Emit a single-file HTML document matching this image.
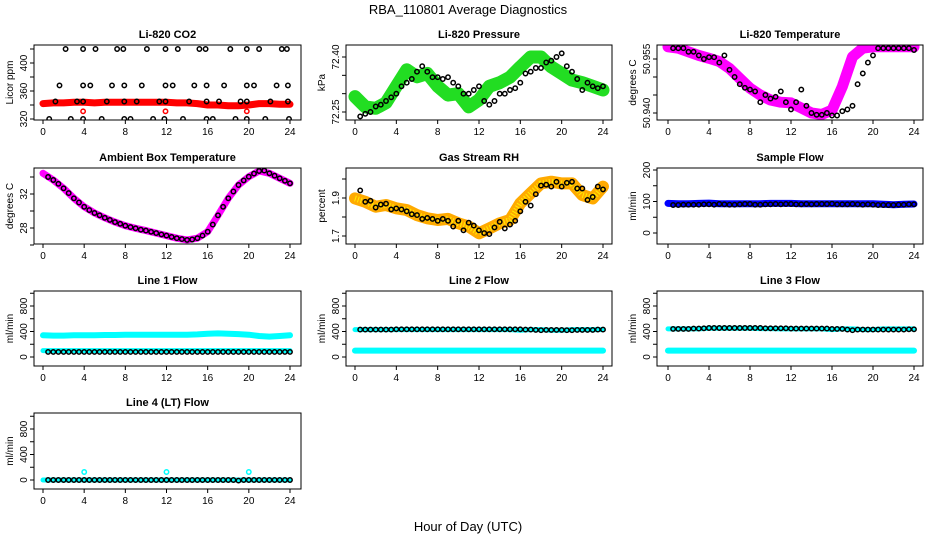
<!DOCTYPE html>
<html><head><meta charset="utf-8"><style>
html,body{margin:0;padding:0;background:#fff;}
svg{display:block;font-family:"Liberation Sans",Arial,sans-serif;}
</style></head><body>
<svg id="chart" width="936" height="540" viewBox="0 0 936 540">
<text x="468" y="14" text-anchor="middle" font-size="13">RBA_110801  Average Diagnostics</text>
<text x="468" y="531" text-anchor="middle" font-size="13">Hour of Day (UTC)</text>
</svg>
<script>
// ---- data ----
const xTicks = [0,4,8,12,16,20,24];
const bandHours = [0,1,2,3,4,5,6,7,8,9,10,11,12,13,14,15,16,17,18,19,20,21,22,23,24];
const halfHours = [0.5,1,1.5,2,2.5,3,3.5,4,4.5,5,5.5,6,6.5,7,7.5,8,8.5,9,9.5,10,10.5,11,11.5,12,12.5,13,13.5,14,14.5,15,15.5,16,16.5,17,17.5,18,18.5,19,19.5,20,20.5,21,21.5,22,22.5,23,23.5,24];

const co2Band = [342,343,343,344,344,343,344,344,344,344,344,344,344,343,343,342,340,340,339,339,340,342,342,341,341];
const co2T = [2.2,3.9,5.1,7.2,7.8,10.1,11.9,13.1,15.2,15.8,18.2,19.8,21.0,23.2,23.7,
 1.6,3.9,4.6,6.7,7.9,9.6,11.9,12.6,14.7,15.9,17.6,19.8,20.5,22.7,23.8,
 1.2,3.3,3.9,6.2,7.9,9.1,11.3,11.9,14.2,15.9,17.1,19.2,19.8,22.1,23.8,
 0.6,2.7,3.9,5.7,7.9,8.5,10.7,11.8,13.6,15.9,16.5,18.7,19.8,21.6,23.9];
const co2V = [420,420,420,420,420,420,420,420,420,420,420,420,420,420,420,
 368,368,368,368,368,368,368,368,368,368,368,368,368,368,368,
 345,345,345,345,345,345,345,345,345,345,345,345,345,345,345,
 320,320,320,320,320,320,320,320,320,320,320,320,320,320,320];
const co2OutT = [3.9,11.9,19.8];
const co2OutV = [331,331,331];

const presBand = [72.292,72.264,72.26,72.275,72.32,72.365,72.346,72.355,72.32,72.296,72.30,72.264,72.283,72.32,72.33,72.345,72.373,72.40,72.40,72.373,72.355,72.337,72.33,72.32,72.31];
const presPts = [72.238,72.245,72.25,72.265,72.27,72.28,72.29,72.30,72.32,72.33,72.34,72.36,72.375,72.36,72.345,72.345,72.34,72.345,72.33,72.32,72.30,72.30,72.31,72.32,72.28,72.27,72.28,72.30,72.30,72.31,72.315,72.33,72.355,72.36,72.37,72.37,72.385,72.39,72.40,72.41,72.375,72.36,72.34,72.31,72.33,72.32,72.315,72.32];

const tempBand = [50.9584,50.958,50.957,50.956,50.9552,50.9543,50.9524,50.9496,50.9469,50.945,50.9436,50.943,50.9428,50.9414,50.940,50.9396,50.9408,50.9473,50.9556,50.958,50.9584,50.9584,50.9584,50.9584,50.9584];
const tempPts = [50.958,50.958,50.958,50.957,50.957,50.956,50.955,50.9555,50.9555,50.954,50.956,50.952,50.950,50.948,50.947,50.9465,50.946,50.943,50.945,50.944,50.9445,50.946,50.943,50.941,50.943,50.9465,50.942,50.940,50.9395,50.9395,50.940,50.9393,50.9393,50.9405,50.941,50.942,50.948,50.951,50.954,50.956,50.958,50.958,50.958,50.958,50.958,50.958,50.958,50.9575];

const ambBand = [34.43,33.65,32.67,31.5,30.5,29.76,29.2,28.7,28.27,27.96,27.7,27.4,27.1,26.8,26.6,26.8,27.56,29.5,31.5,33.06,34.04,34.7,34.43,33.85,33.26];
const ambPts = [34.0,33.65,33.2,32.67,32.1,31.5,31.0,30.5,30.1,29.76,29.5,29.2,28.95,28.7,28.5,28.27,28.1,27.96,27.8,27.7,27.55,27.4,27.25,27.1,26.95,26.8,26.7,26.6,26.65,26.8,27.1,27.56,28.4,29.5,30.5,31.5,32.3,33.06,33.6,34.04,34.4,34.7,34.75,34.43,34.15,33.85,33.55,33.26];

const rhBand = [1.898,1.88,1.854,1.863,1.846,1.837,1.81,1.793,1.784,1.79,1.767,1.75,1.714,1.74,1.767,1.784,1.872,1.925,1.977,1.986,1.977,1.977,1.916,1.898,1.96];
const rhPts = [1.94,1.88,1.885,1.85,1.865,1.87,1.84,1.845,1.84,1.83,1.815,1.81,1.79,1.795,1.79,1.78,1.79,1.78,1.75,1.78,1.73,1.77,1.755,1.73,1.715,1.71,1.745,1.775,1.74,1.76,1.78,1.83,1.88,1.86,1.92,1.965,1.97,1.96,1.985,1.96,1.98,1.985,1.95,1.95,1.89,1.905,1.96,1.945];

const sampBand = [94,93,93,94,95,93,93,93,93,93,94,94,94,93,93,93,93,93,93,93,93,91,90,91,92];
const sampPts = [89,89,90,90,90,90,91,91,90,92,91,90,90,91,92,92,90,90,91,91,92,91,92,92,91,91,92,91,92,92,92,93,91,91,91,92,91,90,91,90,89,89,89,89,90,90,91,91];

const l1HiBand = [340,335,335,340,340,340,345,345,350,350,350,350,350,350,350,355,365,370,365,360,350,330,320,330,340];
const l1LoBand = [100,100,100,100,100,100,100,100,100,100,100,100,100,100,100,100,100,100,100,100,100,100,100,100,100];
const l1Pts = [80,80,80,80,80,80,80,80,80,80,80,80,80,80,80,80,80,80,80,80,80,80,80,80,80,80,80,80,80,80,80,80,80,80,80,80,80,80,80,80,80,80,80,80,80,80,80,80];

const l2HiBand = [430,430,430,430,430,430,430,430,430,430,430,430,430,430,430,430,420,430,430,420,420,430,430,430,430];
const l2LoBand = [100,100,100,100,100,100,100,100,100,100,100,100,100,100,100,100,100,100,100,100,100,100,100,100,100];
const l2Pts = [430,430,430,430,430,430,430,435,435,435,435,435,435,435,435,435,435,435,435,435,435,435,435,435,435,435,435,435,435,435,435,435,430,430,425,420,425,425,425,425,420,420,425,425,425,425,430,430];

const l3HiBand = [440,440,440,440,450,450,450,450,450,445,445,440,440,440,440,440,430,440,440,430,430,440,440,440,440];
const l3LoBand = [100,100,100,100,100,100,100,100,100,100,100,100,100,100,100,100,100,100,100,100,100,100,100,100,100];
const l3Pts = [440,440,440,440,445,445,450,455,455,455,455,455,455,455,455,455,455,455,450,450,450,450,450,445,445,445,445,445,445,445,445,440,440,440,430,420,430,430,430,430,430,430,430,430,430,430,435,435];

const l4Band = [0,0,0,0,0,0,0,0,0,0,0,0,0,0,0,0,0,0,0,0,0,0,0,0,0];
const l4Pts = [0,0,0,0,0,0,0,0,0,0,0,0,0,0,0,0,0,0,0,0,0,0,0,0,0,0,0,0,0,0,0,0,0,0,0,0,0,-10,0,0,0,0,0,0,0,0,0,0];
const l4OutT = [4,12,20];
const l4OutV = [125,125,125];

// ---- rendering ----
const svg = document.getElementById('chart');
const NS = 'http://www.w3.org/2000/svg';
function mk(tag, attrs, parent){
  const e = document.createElementNS(NS, tag);
  for (const k in attrs) e.setAttribute(k, attrs[k]);
  (parent||svg).appendChild(e);
  return e;
}
function panel(cfg){
  const g = mk('g', {});
  
  
  const xs = t => cfg.x0 + (cfg.x24 - cfg.x0) * t / 24;
  const ys = v => cfg.yA + (cfg.yB - cfg.yA) * (v - cfg.vA) / (cfg.vB - cfg.vA);
  const clipId = 'c' + cfg.name;
  const cp = mk('clipPath', {id: clipId}, g);
  mk('rect', {x: cfg.L, y: cfg.T, width: cfg.R - cfg.L, height: cfg.B - cfg.T}, cp);
  const plot = mk('g', {'clip-path': 'url(#' + clipId + ')'}, g);
  (cfg.bands||[]).forEach(b => {
    const pts = bandHours.map((t,i) => xs(t).toFixed(1) + ',' + ys(b.vals[i]).toFixed(1)).join(' ');
    const pl = mk('polyline', {points: pts, fill: 'none', stroke: b.color, 'stroke-width': b.w, 'stroke-linejoin': 'round', 'stroke-linecap': 'round'}, plot);
    
    
    if (b.over){
      mk('polyline', {points: pts, fill: 'none', stroke: b.over, 'stroke-width': b.w * 0.5, 'stroke-dasharray': '1 2', 'stroke-linejoin': 'round'}, plot);
    }
  });
  (cfg.points||[]).forEach(p => {
    p.t.forEach((t,i) => {
      const c = mk('circle', {cx: xs(t).toFixed(1), cy: ys(p.v[i]).toFixed(1), r: 2.2, fill: 'none', stroke: p.color, 'stroke-width': 1.5}, plot);
      
      
    });
  });
  const box = mk('rect', {x: cfg.L, y: cfg.T, width: cfg.R - cfg.L, height: cfg.B - cfg.T, fill: 'none', stroke: '#000', 'stroke-width': 1}, g);
  
  
  xTicks.forEach(t => {
    const x = xs(t);
    mk('line', {x1: x, x2: x, y1: cfg.B, y2: cfg.B + 4, stroke: '#000'}, g);
    const tx = mk('text', {x: x, y: cfg.B + 15, 'text-anchor': 'middle', 'font-size': 10}, g);
    tx.textContent = t;
    
    
  });
  cfg.yTicks.forEach(v => {
    const y = ys(v);
    mk('line', {x1: cfg.L - 4, x2: cfg.L, y1: y, y2: y, stroke: '#000'}, g);
  });
  cfg.yLabels.forEach((lab,i) => {
    const y = ys(cfg.yLabelVals[i]);
    const tx = mk('text', {x: 0, y: 0, 'text-anchor': 'middle', 'font-size': 10, transform: 'translate(' + (cfg.L - 7) + ',' + y + ') rotate(-90)'}, g);
    tx.textContent = lab;
    
    
  });
  const yt = mk('text', {x: 0, y: 0, 'text-anchor': 'middle', 'font-size': 10, transform: 'translate(' + (cfg.L - 21) + ',' + ((cfg.T + cfg.B) / 2) + ') rotate(-90)'}, g);
  yt.textContent = cfg.ylab;
  
  
  const tt = mk('text', {x: (cfg.L + cfg.R) / 2, y: cfg.T - 7, 'text-anchor': 'middle', 'font-size': 11, 'font-weight': 'bold'}, g);
  tt.textContent = cfg.title;
  
  
}
const col = [{L:34,R:301,x0:43,x24:290},{L:346,R:612,x0:355,x24:603},{L:657,R:923,x0:668,x24:914}];
const row = [{T:45,B:120},{T:168,B:244},{T:291,B:366},{T:413,B:489}];
function geo(c,r){ return Object.assign({}, col[c], row[r]); }

panel(Object.assign(geo(0,0), {name:'co2-panel', title:'Li-820 CO2', ylab:'Licor ppm', yA:119, yB:63, vA:320, vB:400,
  yTicks:[320,340,360,380,400,420], yLabels:['320','360','400'], yLabelVals:[320,360,400],
  bands:[{name:'co2-band', vals:co2Band, color:'#ff0000', w:7}],
  points:[{name:'co2-point', t:co2T, v:co2V, color:'#000'},{name:'co2-outlier', t:co2OutT, v:co2OutV, color:'#ff0000'}]}));
panel(Object.assign(geo(1,0), {name:'pressure-panel', title:'Li-820 Pressure', ylab:'kPa', yA:112, yB:57, vA:72.25, vB:72.40,
  yTicks:[72.25,72.30,72.35,72.40], yLabels:['72.25','72.40'], yLabelVals:[72.25,72.40],
  bands:[{name:'pressure-band', vals:presBand, color:'#22dd22', w:13}],
  points:[{name:'pressure-point', t:halfHours, v:presPts, color:'#000'}]}));
panel(Object.assign(geo(2,0), {name:'temperature-panel', title:'Li-820 Temperature', ylab:'degrees C', yA:113, yB:59, vA:50.940, vB:50.955,
  yTicks:[50.940,50.945,50.950,50.955], yLabels:['50.940','50.955'], yLabelVals:[50.940,50.955],
  bands:[{name:'temperature-band', vals:tempBand, color:'#ff00ff', w:11}],
  points:[{name:'temperature-point', t:halfHours, v:tempPts, color:'#000'}]}));
panel(Object.assign(geo(0,1), {name:'ambient-panel', title:'Ambient Box Temperature', ylab:'degrees C', yA:228, yB:194, vA:28, vB:32,
  yTicks:[26,28,30,32,34], yLabels:['28','32'], yLabelVals:[28,32],
  bands:[{name:'ambient-band', vals:ambBand, color:'#ff00ff', w:7}],
  points:[{name:'ambient-point', t:halfHours, v:ambPts, color:'#000'}]}));
panel(Object.assign(geo(1,1), {name:'rh-panel', title:'Gas Stream RH', ylab:'percent', yA:236, yB:198, vA:1.7, vB:1.9,
  yTicks:[1.7,1.8,1.9,2.0], yLabels:['1.7','1.9'], yLabelVals:[1.7,1.9],
  bands:[{name:'rh-band', vals:rhBand, color:'#ffaa00', w:12, over:'#ffee00'}],
  points:[{name:'rh-point', t:halfHours, v:rhPts, color:'#000'}]}));
panel(Object.assign(geo(2,1), {name:'sample-flow-panel', title:'Sample Flow', ylab:'ml/min', yA:233, yB:170, vA:0, vB:200,
  yTicks:[0,50,100,150,200], yLabels:['0','100','200'], yLabelVals:[0,100,200],
  bands:[{name:'sample-flow-band', vals:sampBand, color:'#0000ff', w:7}],
  points:[{name:'sample-flow-point', t:halfHours, v:sampPts, color:'#000'}]}));
const flowTicks = [0,200,400,600,800,1000];
panel(Object.assign(geo(0,2), {name:'line1-panel', title:'Line 1 Flow', ylab:'ml/min', yA:357, yB:306, vA:0, vB:800,
  yTicks:flowTicks, yLabels:['0','400','800'], yLabelVals:[0,400,800],
  bands:[{name:'line1-high-band', vals:l1HiBand, color:'#00ffff', w:6},{name:'line1-low-band', vals:l1LoBand, color:'#00ffff', w:5}],
  points:[{name:'line1-point', t:halfHours, v:l1Pts, color:'#000'}]}));
panel(Object.assign(geo(1,2), {name:'line2-panel', title:'Line 2 Flow', ylab:'ml/min', yA:357, yB:306, vA:0, vB:800,
  yTicks:flowTicks, yLabels:['0','400','800'], yLabelVals:[0,400,800],
  bands:[{name:'line2-high-band', vals:l2HiBand, color:'#00ffff', w:5},{name:'line2-low-band', vals:l2LoBand, color:'#00ffff', w:6}],
  points:[{name:'line2-point', t:halfHours, v:l2Pts, color:'#000'}]}));
panel(Object.assign(geo(2,2), {name:'line3-panel', title:'Line 3 Flow', ylab:'ml/min', yA:357, yB:306, vA:0, vB:800,
  yTicks:flowTicks, yLabels:['0','400','800'], yLabelVals:[0,400,800],
  bands:[{name:'line3-high-band', vals:l3HiBand, color:'#00ffff', w:5},{name:'line3-low-band', vals:l3LoBand, color:'#00ffff', w:6}],
  points:[{name:'line3-point', t:halfHours, v:l3Pts, color:'#000'}]}));
panel(Object.assign(geo(0,3), {name:'line4-panel', title:'Line 4 (LT) Flow', ylab:'ml/min', yA:480, yB:429, vA:0, vB:800,
  yTicks:flowTicks, yLabels:['0','400','800'], yLabelVals:[0,400,800],
  bands:[{name:'line4-band', vals:l4Band, color:'#00ffff', w:5}],
  points:[{name:'line4-point', t:halfHours, v:l4Pts, color:'#000'},{name:'line4-outlier', t:l4OutT, v:l4OutV, color:'#00ffff'}]}));
</script>
</body></html>
